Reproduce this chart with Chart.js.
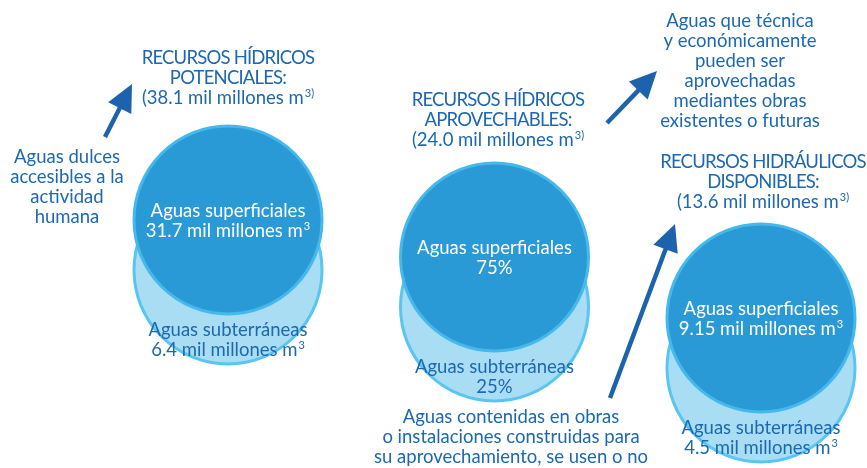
<!DOCTYPE html>
<html>
<head>
<meta charset="utf-8">
<script src="https://cdn.jsdelivr.net/npm/chart.js@4/dist/chart.umd.min.js"></script>
<style>
  html, body { margin: 0; padding: 0; background: #fff; }
  canvas { display: block; }
</style>
</head>
<body>
<canvas id="chart" width="867" height="468"></canvas>
<script>
// --- data ---
const groupKinds = ['RECURSOS HÍDRICOS', 'RECURSOS HÍDRICOS', 'RECURSOS HIDRÁULICOS'];
const groupNames = ['POTENCIALES:', 'APROVECHABLES:', 'DISPONIBLES:'];
const totals = [38.1, 24.0, 13.6];          // mil millones m3
const superficiales = [31.7, 75, 9.15];
const subterraneas = [6.4, 25, 4.5];
const units = [' mil millones m^3', '%', ' mil millones m^3'];

const notes = [
  ['Aguas dulces', 'accesibles a la', 'actividad', 'humana'],
  ['Aguas que técnica', 'y económicamente', 'pueden ser', 'aprovechadas', 'mediantes obras', 'existentes o futuras'],
  ['Aguas contenidas en obras', 'o instalaciones construidas para', 'su aprovechamiento, se usen o no']
];

// --- layout ---
const circleY = [220, 257, 318];   // centre of the dark circle per group (px)
const lightDy = 50;
const radius = 94;
const titlePos = [[228, 58], [498, 100], [763, 162]];
const notePos = [[67, 157], [740, 21], [511, 417]];
const arrows = [[105, 137, 132, 84], [607, 123, 657, 71], [610, 398, 675, 224]];

const darkBlue = '#1c68b2';
const font = 'Lato, "Open Sans", sans-serif';
const fontSize = 18.5;
const lineH = 20;

function fmt(v) { return String(v); }

// draws "text^sup" centred at x, middle at y
function richText(ctx, str, x, y) {
  const parts = str.split('^');
  const main = parts[0], sup = parts[1] || '';
  // capitals in Lato run wider than the original face, tighten them a bit
  const caps = /[A-Z]{4}/.test(main) && main === main.toUpperCase();
  ctx.letterSpacing = caps ? '-0.8px' : '0px';
  ctx.font = fontSize + 'px ' + font;
  const w1 = ctx.measureText(main).width;
  ctx.font = Math.round(fontSize * 0.62) + 'px ' + font;
  const w2 = sup ? ctx.measureText(sup).width + 1 : 0;
  const x0 = x - (w1 + w2) / 2;
  ctx.textAlign = 'left';
  ctx.textBaseline = 'middle';
  ctx.font = fontSize + 'px ' + font;
  ctx.fillText(main, x0, y);
  if (sup) {
    ctx.font = Math.round(fontSize * 0.62) + 'px ' + font;
    ctx.fillText(sup, x0 + w1 + 1, y - 5);
  }
  ctx.letterSpacing = '0px';
}

function block(ctx, lines, x, y, color) {
  ctx.fillStyle = color;
  lines.forEach((l, k) => richText(ctx, l, x, y + k * lineH));
}

function arrow(ctx, x1, y1, x2, y2) {
  const a = Math.atan2(y2 - y1, x2 - x1);
  const headL = 27, headW = 13;
  const bx = x2 - headL * Math.cos(a), by = y2 - headL * Math.sin(a);
  ctx.strokeStyle = '#1c63ac';
  ctx.fillStyle = '#1c63ac';
  ctx.lineWidth = 4.5;
  ctx.beginPath();
  ctx.moveTo(x1, y1);
  ctx.lineTo(bx + 4 * Math.cos(a), by + 4 * Math.sin(a));
  ctx.stroke();
  ctx.beginPath();
  ctx.moveTo(x2, y2);
  ctx.lineTo(bx + headW * Math.sin(a), by - headW * Math.cos(a));
  ctx.lineTo(bx - headW * Math.sin(a), by + headW * Math.cos(a));
  ctx.closePath();
  ctx.fill();
}

const labelsPlugin = {
  id: 'labels',
  afterDatasetsDraw(chart) {
    const ctx = chart.ctx;
    const xs = chart.scales.x, ys = chart.scales.y;
    ctx.save();
    groupKinds.forEach((kind, i) => {
      const cx = xs.getPixelForValue(i);
      const cy = ys.getPixelForValue(circleY[i]);
      const ly = ys.getPixelForValue(circleY[i] + lightDy);
      block(ctx, [kind, groupNames[i], '(' + totals[i].toFixed(1) + ' mil millones m^3)'],
        titlePos[i][0], titlePos[i][1], darkBlue);
      block(ctx, ['Aguas superficiales', fmt(superficiales[i]) + units[i]], cx, cy - 9, '#ffffff');
      block(ctx, ['Aguas subterráneas', fmt(subterraneas[i]) + units[i]], cx, ly + 60, darkBlue);
    });
    notes.forEach((lines, i) => block(ctx, lines, notePos[i][0], notePos[i][1], darkBlue));
    arrows.forEach(a => arrow(ctx, a[0], a[1], a[2], a[3]));
    ctx.restore();
  }
};

new Chart(document.getElementById('chart'), {
  type: 'bubble',
  data: {
    datasets: [{
      label: 'Aguas superficiales',
      data: superficiales.map((v, i) => ({ x: i, y: circleY[i], r: radius })),
      backgroundColor: '#2a9ad6',
      borderColor: '#45b9ec',
      borderWidth: 3
    }, {
      label: 'Aguas subterráneas',
      data: subterraneas.map((v, i) => ({ x: i, y: circleY[i] + lightDy, r: radius })),
      backgroundColor: '#a9ddf3',
      borderColor: '#58c6f0',
      borderWidth: 3
    }]
  },
  options: {
    responsive: false,
    animation: false,
    events: [],
    layout: { padding: 0, autoPadding: false },
    scales: {
      x: { type: 'linear', display: false, min: -228 / 266.5, max: (867 - 228) / 266.5 },
      y: { type: 'linear', display: false, min: 0, max: 468, reverse: true }
    },
    plugins: { legend: { display: false }, tooltip: { enabled: false } }
  },
  plugins: [labelsPlugin]
});
</script>
</body>
</html>
